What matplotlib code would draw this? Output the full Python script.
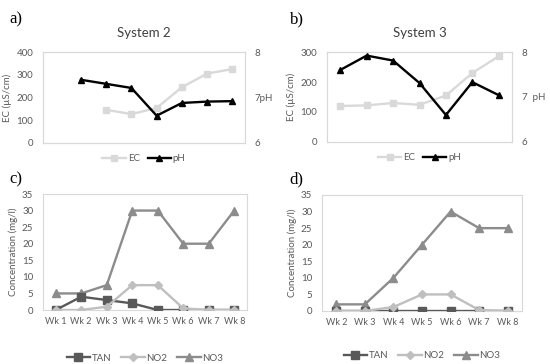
import numpy as np
import matplotlib.pyplot as plt
from matplotlib.lines import Line2D

plt.rcParams["font.family"] = ["Lato", "DejaVu Sans"]

# panel a (System 2), weeks 1-8
ec_sys2 = [np.nan, np.nan, 146, 127, 154, 245, 305, 325]
ph_sys2 = [np.nan, 7.39, 7.30, 7.21, 6.60, 6.88, 6.91, 6.92]
# panel b (System 3), weeks 2-8
ec_sys3 = [120, 122, 130, 124, 155, 230, 286]
ph_sys3 = [7.60, 7.92, 7.81, 7.31, 6.60, 7.33, 7.04]

weeks_c = ["Wk 1", "Wk 2", "Wk 3", "Wk 4", "Wk 5", "Wk 6", "Wk 7", "Wk 8"]
tan_c = [0, 4, 3, 2, 0, 0, 0, 0]
no2_c = [0, 0, 1, 7.5, 7.5, 0.5, 0, 0]
no3_c = [5, 5, 7.5, 30, 30, 20, 20, 30]

weeks_d = ["Wk 2", "Wk 3", "Wk 4", "Wk 5", "Wk 6", "Wk 7", "Wk 8"]
tan_d = [0, 0, 0, 0, 0, 0, 0]
no2_d = [0, 0, 1.2, 5, 5, 0.3, 0]
no3_d = [2, 2, 10, 20, 30, 25, 25]

W, H = 550, 364
GRID = "#d9d9d9"
TXT = "#595959"
EC_C = "#d9d9d9"
TAN_C = "#595959"
NO2_C = "#bfbfbf"
NO3_C = "#8c8c8c"
FS = 7

fig = plt.figure(figsize=(W / 100, H / 100), dpi=100)


def box(x0, y0, x1, y1):
    return [x0 / W, 1 - y1 / H, (x1 - x0) / W, (y1 - y0) / H]


def style(ax):
    for s in ax.spines.values():
        s.set_color(GRID)
        s.set_linewidth(0.8)
    ax.tick_params(length=0, labelsize=FS, colors=TXT, pad=7)


def ec_panel(rect, ec, ph, ymax, title, ph_gap):
    ax = fig.add_axes(rect)
    x = np.arange(len(ec))
    ax.plot(x, ec, color=EC_C, lw=1.7, marker="s", ms=4.5)
    ax.set_xlim(-0.5, len(ec) - 0.5)
    ax.set_ylim(0, ymax)
    ax.set_yticks(np.arange(0, ymax + 1, 100))
    ax.set_xticks([])
    ax.set_ylabel("EC (µS/cm)", fontsize=FS, color=TXT, labelpad=3)
    ax.set_title(title, fontsize=9.5, color="#404040", pad=11)
    style(ax)
    ax2 = ax.twinx()
    ax2.plot(x, ph, color="black", lw=1.7, marker="^", ms=5)
    ax2.set_ylim(6, 8)
    ax2.set_yticks([6, 7, 8])
    ax2.set_yticklabels(["6", "7" + ph_gap + "pH", "8"])
    style(ax2)
    handles = [
        Line2D([], [], color=EC_C, lw=1.7, marker="s", ms=4.5),
        Line2D([], [], color="black", lw=1.7, marker="^", ms=5),
    ]
    ax.legend(handles, ["EC", "pH"], loc="upper center", bbox_to_anchor=(0.5, -0.03),
              ncol=2, frameon=False, fontsize=FS, labelcolor=TXT,
              handlelength=2.4, handletextpad=0.2, columnspacing=0.8)
    return ax


def conc_panel(rect, weeks, tan, no2, no3, leg_y):
    ax = fig.add_axes(rect)
    x = np.arange(len(weeks))
    ax.plot(x, tan, color=TAN_C, lw=1.7, marker="s", ms=5.5, label="TAN", zorder=3)
    ax.plot(x, no2, color=NO2_C, lw=1.7, marker="D", ms=4, label="NO2", zorder=4)
    ax.plot(x, no3, color=NO3_C, lw=1.7, marker="^", ms=5.5, label="NO3", zorder=2)
    ax.set_xlim(-0.5, len(weeks) - 0.5)
    ax.set_ylim(0, 35)
    ax.set_yticks(range(0, 36, 5))
    ax.set_xticks(x)
    ax.set_xticklabels(weeks)
    ax.set_ylabel("Concentration (mg/l)", fontsize=FS, color=TXT, labelpad=3)
    style(ax)
    ax.tick_params(axis="x", pad=5, labelsize=6.5)
    ax.legend(loc="upper center", bbox_to_anchor=(0.5, leg_y), ncol=3, frameon=False,
              fontsize=FS, labelcolor=TXT, handlelength=2.4, handletextpad=0.2,
              columnspacing=1.0)
    return ax


ec_panel(box(43, 52, 245, 143), ec_sys2, ph_sys2, 400, "System 2", "")
ec_panel(box(327, 52, 512, 142), ec_sys3, ph_sys3, 300, "System 3", "  ")
conc_panel(box(43, 194, 247, 310), weeks_c, tan_c, no2_c, no3_c, -0.3)
conc_panel(box(322, 195, 522, 311), weeks_d, tan_d, no2_d, no3_d, -0.27)

for lbl, px, py in [("a)", 9, 19), ("b)", 290, 19), ("c)", 9, 179), ("d)", 289, 179)]:
    fig.text(px / W, 1 - py / H, lbl, fontsize=12, family="Liberation Serif",
             va="center", ha="left")

fig.savefig("out.png", dpi=100)
